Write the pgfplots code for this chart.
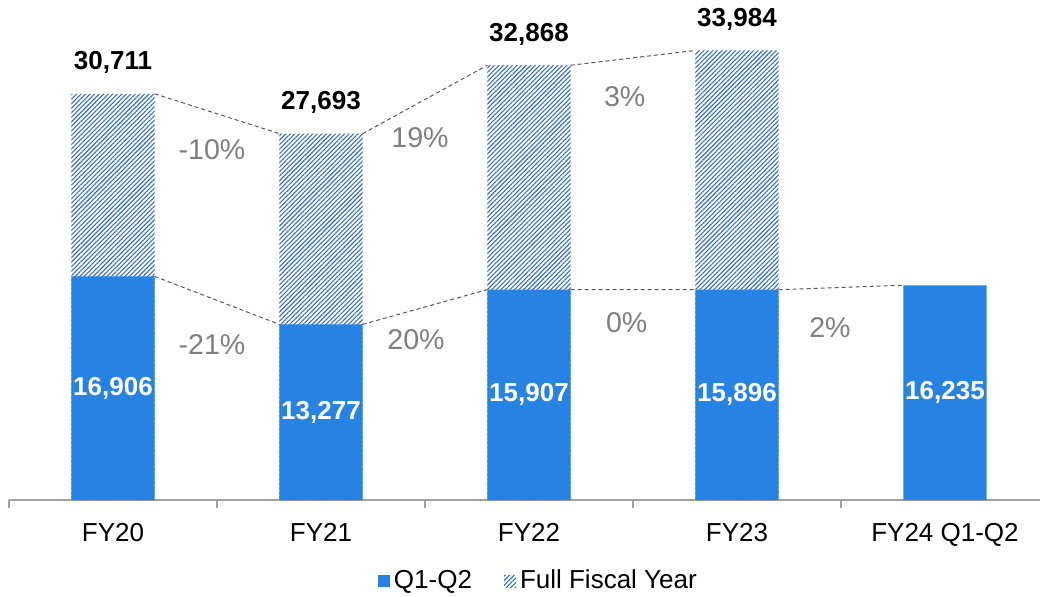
\documentclass[border=0pt]{standalone}
\usepackage{pgfplots}
\pgfplotsset{compat=1.18}
\usepackage{fontspec}
\setmainfont{Liberation Sans}
\usetikzlibrary{patterns.meta}

\definecolor{qblue}{RGB}{38,130,227}
\definecolor{hatchblue}{RGB}{50,108,205}
\definecolor{pctgray}{RGB}{127,127,127}
\definecolor{dashgray}{RGB}{89,89,89}
\definecolor{axisgray}{RGB}{160,160,160}

\tikzset{hatch/.style={pattern={Lines[angle=45,distance=1.6pt,line width=0.55pt]}, pattern color=hatchblue}}

\pgfplotstableread{
x full lab
0 30711 30,711
1 27693 27,693
2 32868 32,868
3 33984 33,984
}\fulltab

\pgfplotstableread{
x q
0 16906
1 13277
2 15907
3 15896
4 16235
}\halftab

\begin{document}
\begin{tikzpicture}
\begin{axis}[
    width=520pt, height=250pt, scale only axis,
    xmin=-0.5, xmax=4.5, ymin=0, ymax=37800,
    axis x line*=bottom, axis y line=none,
    axis line style={-, draw=axisgray, line width=0.6pt},
    xtick={0,1,2,3,4}, xticklabels={FY20,FY21,FY22,FY23,FY24 Q1-Q2},
    major tick length=0pt,
    extra x ticks={-0.5,0.5,1.5,2.5,3.5,4.5}, extra x tick labels={},
    extra x tick style={major tick length=4pt, tick align=outside, tick style={draw=axisgray, line width=0.6pt}},
    tick label style={font=\fontsize{13}{15}\selectfont},
    xticklabel style={yshift=-8pt},
    reverse legend,
    legend style={at={(0.51,-0.162)}, anchor=center, draw=none, legend columns=2,
        font=\fontsize{13}{15}\selectfont,
        /tikz/every even column/.append style={column sep=14pt}},
    legend cell align=left,
]
% full fiscal year (hatched), drawn first so the blue half covers its lower part
\addplot[ybar, bar width=0.4, bar shift=0pt, draw=none, hatch,
    nodes near coords, point meta=explicit symbolic,
    every node near coord/.append style={font=\bfseries\fontsize{13}{15}\selectfont, text=black, yshift=6.5pt},
    legend image code/.code={\fill[hatch] (0pt,-3pt) rectangle (6pt,3pt);}]
    table[x=x, y=full, meta=lab] {\fulltab};
\addlegendentry{Full Fiscal Year}
\addplot[ybar, bar width=0.4, bar shift=0pt, draw=none, fill=qblue,
    legend image code/.code={\fill[qblue] (0pt,-3pt) rectangle (6pt,3pt);}]
    table[x=x, y=q] {\halftab};
\addlegendentry{Q1-Q2}

% dashed connectors
\pgfplotsset{dashline/.style={dashgray, dash pattern=on 2pt off 1.5pt, line width=0.5pt, forget plot}}
\addplot[dashline] coordinates {(0.2,30711) (0.8,27693)};
\addplot[dashline] coordinates {(1.2,27693) (1.8,32868)};
\addplot[dashline] coordinates {(2.2,32868) (2.8,33984)};
\addplot[dashline] coordinates {(0.2,16906) (0.8,13277)};
\addplot[dashline] coordinates {(1.2,13277) (1.8,15907)};
\addplot[dashline] coordinates {(2.2,15907) (2.8,15896)};
\addplot[dashline] coordinates {(3.2,15896) (3.8,16235)};

% values inside blue bars
\begin{scope}[every node/.style={text=white, font=\bfseries\fontsize{13}{15}\selectfont}]
\node at (axis cs:0,8453) {16,906};
\node at (axis cs:1,6638) {13,277};
\node at (axis cs:2,7953) {15,907};
\node at (axis cs:3,7948) {15,896};
\node at (axis cs:4,8117) {16,235};
\end{scope}

% growth percentages
\begin{scope}[every node/.style={text=pctgray, font=\fontsize{14.3}{16}\selectfont}]
\node at (axis cs:0.476,26460) {-10\%};
\node at (axis cs:0.476,11718) {-21\%};
\node at (axis cs:1.476,27367) {19\%};
\node at (axis cs:1.457,12096) {20\%};
\node at (axis cs:2.46,30467) {3\%};
\node at (axis cs:2.47,13381) {0\%};
\node at (axis cs:3.447,13003) {2\%};
\end{scope}
\end{axis}
\pgfresetboundingbox
\useasboundingbox (-4.5pt,-48pt) rectangle (515.5pt,250pt);
\end{tikzpicture}
\end{document}
